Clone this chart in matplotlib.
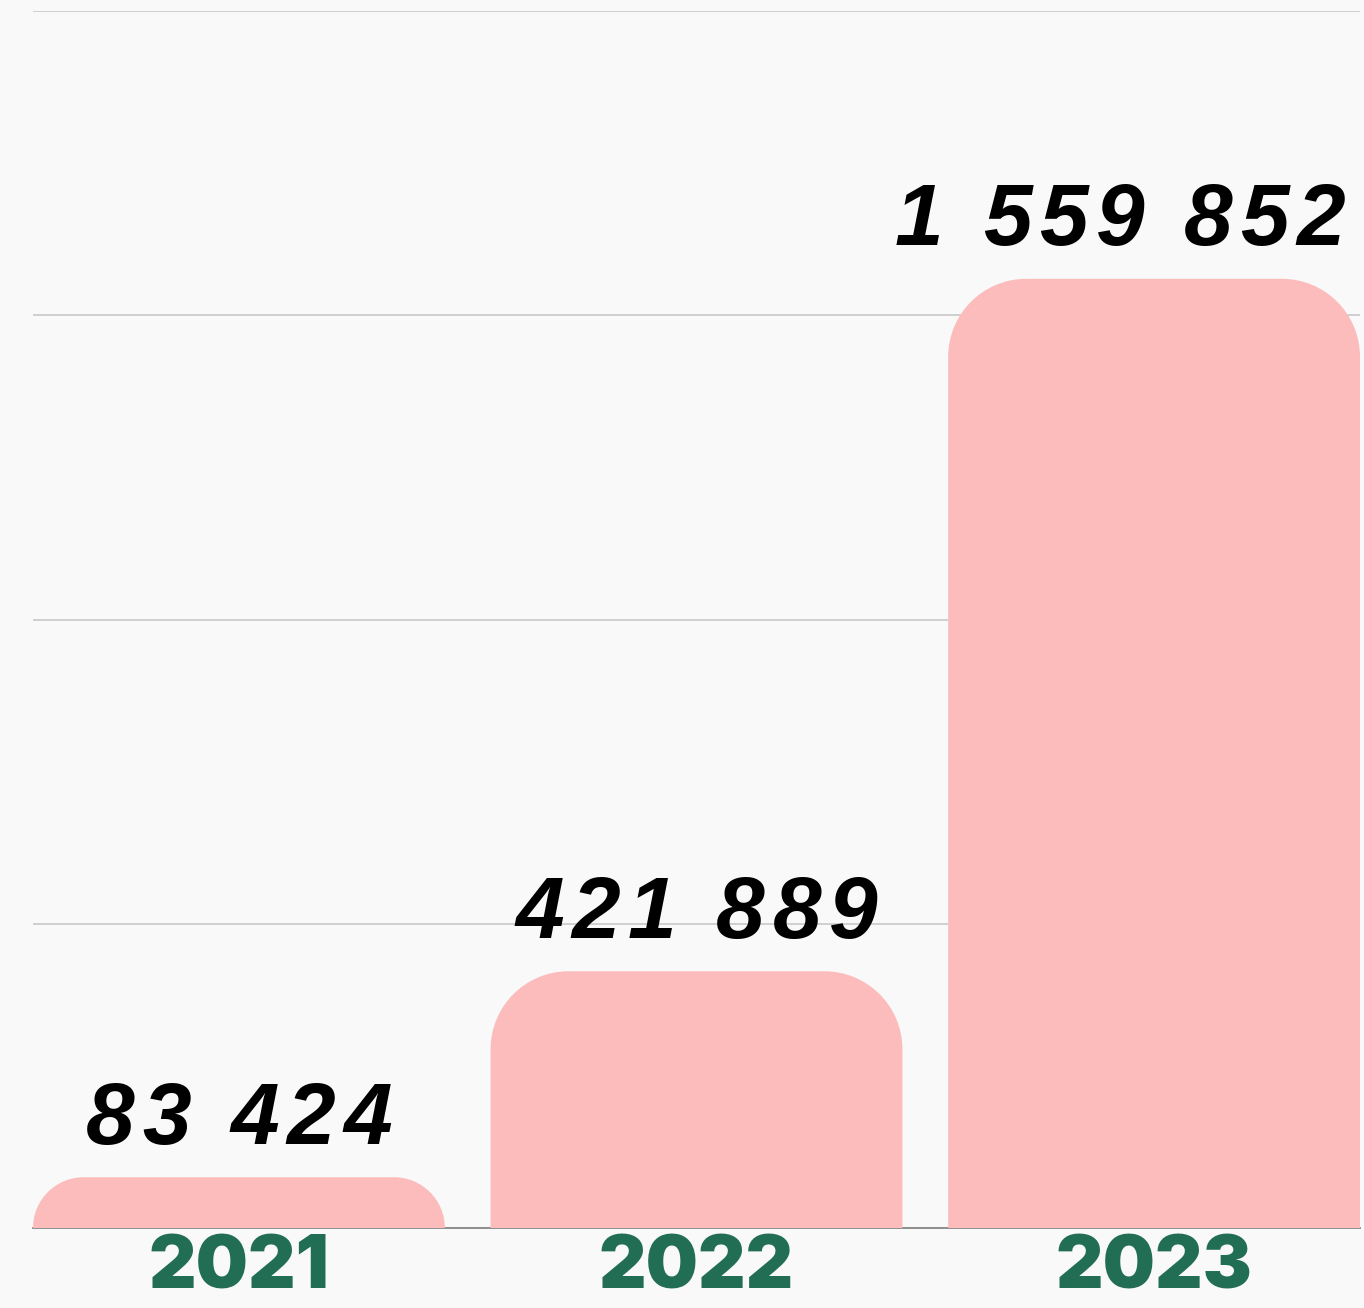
import matplotlib
matplotlib.use('Agg')
import matplotlib.pyplot as plt
import numpy as np
from matplotlib.path import Path
from matplotlib.patches import PathPatch
from matplotlib.font_manager import FontProperties, findfont
from matplotlib.ft2font import FT2Font

years = ['2021', '2022', '2023']
values = [83424, 421889, 1559852]
labels = ['83 424', '421 889', '1 559 852']

bg = '#f9f9f9'
bar_color = '#fcbcbc'
green = '#226e55'

W, H = 1364, 1308
fig = plt.figure(figsize=(W / 100, H / 100), dpi=100, facecolor=bg)
ax = fig.add_axes([33 / W, 80 / H, 1327 / W, 1217 / H], facecolor=bg)

width = 0.9
ax.set_xlim(-0.45, 2.45)
ax.set_ylim(0, 2000000)

# px per data unit
sx = 1327 / 2.9
sy = 1217 / 2000000
k = 0.5523  # bezier circle constant


def rounded_bar(x, h, r_px=78):
    r = min(r_px, h * sy)
    rx = r / sx
    ry = r / sy
    x0, x1 = x - width / 2, x + width / 2
    verts = [(x0, 0), (x0, h - ry),
             (x0, h - ry + k * ry), (x0 + rx - k * rx, h), (x0 + rx, h),
             (x1 - rx, h),
             (x1 - rx + k * rx, h), (x1, h - ry + k * ry), (x1, h - ry),
             (x1, 0), (x0, 0)]
    codes = [Path.MOVETO, Path.LINETO,
             Path.CURVE4, Path.CURVE4, Path.CURVE4,
             Path.LINETO,
             Path.CURVE4, Path.CURVE4, Path.CURVE4,
             Path.LINETO, Path.CLOSEPOLY]
    ax.add_patch(PathPatch(Path(verts, codes), facecolor=bar_color,
                           edgecolor='none', zorder=3))


xpos = np.arange(len(years))
for x, v in zip(xpos, values):
    rounded_bar(x, v)

# grid
ax.set_yticks([0, 500000, 1000000, 1500000, 2000000])
ax.yaxis.grid(True, color='#cccccc', lw=1.3, zorder=0)
ax.set_axisbelow(True)
ax.tick_params(axis='y', left=False, labelleft=False)
for s in ['top', 'right', 'left']:
    ax.spines[s].set_visible(False)
ax.spines['bottom'].set_color('#888888')
ax.spines['bottom'].set_linewidth(1.3)
ax.spines['bottom'].set_zorder(2)

# year labels
ax.set_xticks(xpos, years)
ax.tick_params(axis='x', length=0, pad=5)
for t in ax.get_xticklabels():
    t.set_fontfamily(['Inter', 'Lato', 'DejaVu Sans'])
    t.set_fontweight('black')
    t.set_fontsize(53)
    t.set_color(green)

# value labels with letter spacing
fsize = 63
fp = FontProperties(family='Liberation Sans', weight='bold', style='italic', size=fsize)
font = FT2Font(findfont(fp))
font.set_size(fsize, 72)
track = 5.5  # pt


def advance(ch):
    g = font.load_char(ord(ch))
    return g.linearHoriAdvance / 65536


fig_right_pt = (1345 - 33) * 72 / 100  # right limit relative to axes left, pt
for x, v, lab in zip(xpos, values, labels):
    adv = [advance(c) + track for c in lab]
    total = sum(adv) - track
    cx_pt = (x + 0.45) * sx * 72 / 100
    start = -total / 2
    if cx_pt + total / 2 > fig_right_pt:
        start = fig_right_pt - cx_pt - total
    off = start
    for c, a in zip(lab, adv):
        ax.annotate(c, xy=(x, v), xytext=(off, 24), textcoords='offset points',
                    ha='left', va='baseline', fontproperties=fp, color='black',
                    zorder=4, annotation_clip=False)
        off += a

fig.savefig('out.png', dpi=100, facecolor=bg)
